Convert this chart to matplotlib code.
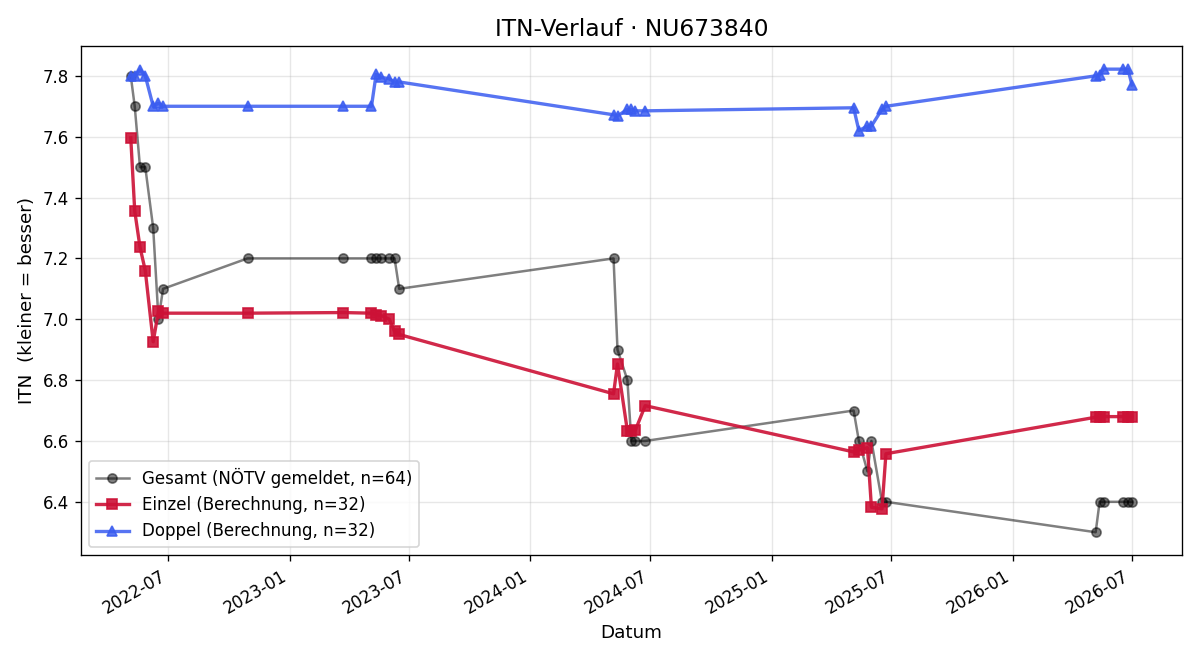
import matplotlib
matplotlib.use("Agg")
import matplotlib.pyplot as plt
import matplotlib.dates as mdates
import numpy as np
import pandas as pd

# dates of the rating snapshots
dates = pd.to_datetime([
    "2022-05-05", "2022-05-11", "2022-05-19", "2022-05-27", "2022-06-08",
    "2022-06-16", "2022-06-23", "2022-10-29",
    "2023-03-23", "2023-05-05", "2023-05-12", "2023-05-20", "2023-06-01",
    "2023-06-09", "2023-06-16",
    "2024-05-06", "2024-05-12", "2024-05-27", "2024-06-02", "2024-06-08",
    "2024-06-23",
    "2025-05-05", "2025-05-13", "2025-05-26", "2025-06-01", "2025-06-17",
    "2025-06-23",
    "2026-05-07", "2026-05-13", "2026-05-19", "2026-06-17", "2026-06-25",
    "2026-07-01",
])

gesamt = [7.80, 7.70, 7.50, 7.50, 7.30, 7.00, 7.10, 7.20,
          7.20, 7.20, 7.20, 7.20, 7.20, 7.20, 7.10,
          7.20, 6.90, 6.80, 6.60, 6.60, 6.60,
          6.70, 6.60, 6.50, 6.60, 6.40, 6.40,
          6.30, 6.40, 6.40, 6.40, 6.40, 6.40]

einzel = [7.596, 7.356, 7.237, 7.160, 6.926, 7.028, 7.020, 7.020,
          7.022, 7.020, 7.015, 7.012, 7.000, 6.960, 6.950,
          6.755, 6.853, 6.633, 6.633, 6.635, 6.716,
          6.564, 6.570, 6.578, 6.382, 6.377, 6.558,
          6.678, 6.680, 6.680, 6.680, 6.680, 6.680]

doppel = [7.800, 7.800, 7.820, 7.800, 7.700, 7.710, 7.700, 7.700,
          7.700, 7.700, 7.805, 7.795, 7.790, 7.780, 7.780,
          7.672, 7.668, 7.690, 7.690, 7.685, 7.685,
          7.695, 7.620, 7.635, 7.635, 7.690, 7.700,
          7.800, 7.802, 7.822, 7.822, 7.822, 7.770]

labels = ["Gesamt (NÖTV gemeldet, n=64)",
          "Einzel (Berechnung, n=32)",
          "Doppel (Berechnung, n=32)"]


def draw(save_file):
    fig, ax = plt.subplots(figsize=(10, 5.5), dpi=120)

    ax.plot(dates, gesamt, color="black", alpha=0.5, lw=1.5,
            marker="o", ms=5.5, label=labels[0])
    ax.plot(dates, einzel, color="#cc1136", alpha=0.9, lw=2,
            marker="s", ms=6, label=labels[1])
    ax.plot(dates, doppel, color="#3a5cf0", alpha=0.85, lw=2,
            marker="^", ms=6, label=labels[2])

    ax.xaxis.set_major_locator(mdates.MonthLocator(bymonth=[1, 7]))
    ax.xaxis.set_major_formatter(mdates.DateFormatter("%Y-%m"))
    fig.autofmt_xdate()

    ax.set_title("ITN-Verlauf · NU673840", fontsize=14)
    ax.set_xlabel("Datum", fontsize=11)
    ax.set_ylabel("ITN  (kleiner = besser)", fontsize=11)
    ax.grid(True, alpha=0.3)
    ax.legend(loc="lower left", fontsize=10)

    fig.tight_layout()
    fig.savefig(save_file, dpi=120)


if __name__ == "__main__":
    draw("out.png")
